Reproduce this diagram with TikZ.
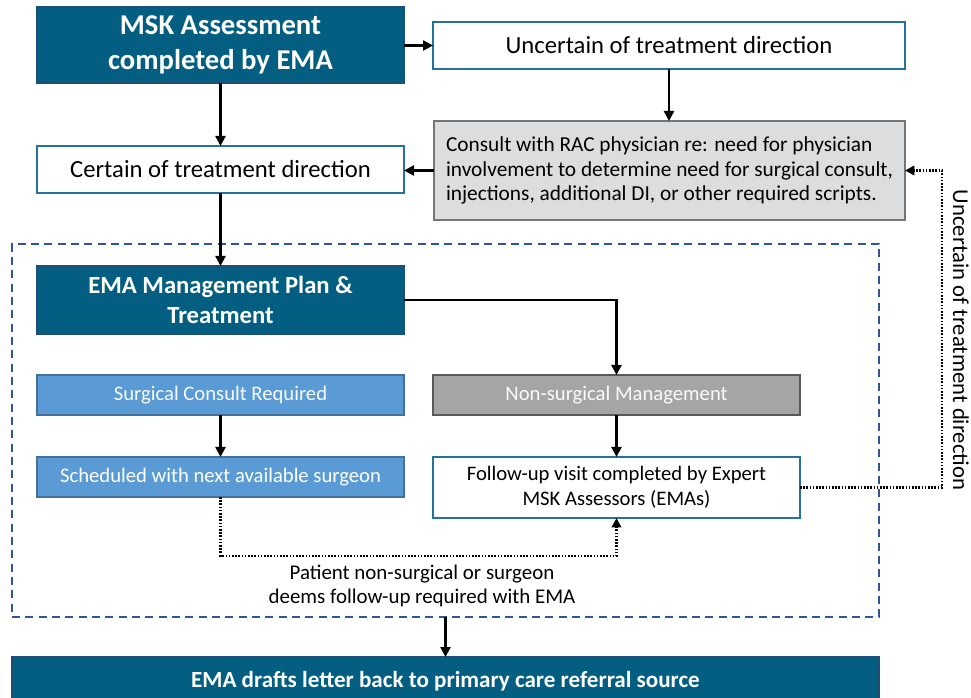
\documentclass[tikz,border=0pt]{standalone}
\usepackage{fontspec}
\setmainfont{Carlito}
\usetikzlibrary{arrows.meta,calc}
\definecolor{darkteal}{HTML}{035E82}
\definecolor{darkedge}{HTML}{1F4E79}
\definecolor{tealedge}{HTML}{2372A0}
\definecolor{consfill}{HTML}{DCDDDF}
\definecolor{consedge}{HTML}{767676}
\definecolor{surgfill}{HTML}{5B9BD5}
\definecolor{surgedge}{HTML}{41719C}
\definecolor{nonfill}{HTML}{A5A5A5}
\definecolor{nonedge}{HTML}{595959}
\definecolor{contedge}{HTML}{2F5597}
\tikzset{
  box/.style={rectangle, inner sep=0pt, outer sep=0pt, align=center, line width=1.2pt},
  darkbox/.style={box, fill=darkteal, draw=darkedge, text=white, font=\bfseries},
  whitebox/.style={box, fill=white, draw=tealedge},
  consbox/.style={box, fill=consfill, draw=consedge},
  surgbox/.style={box, fill=surgfill, draw=surgedge, text=white!95!surgfill},
  nonbox/.style={box, fill=nonfill, draw=nonedge, text=white!95!nonfill},
  conn/.style={line width=1.7pt, -{Triangle[length=7.5pt,width=7.5pt]}},
  dotconn/.style={line width=2pt, dash pattern=on 1.2pt off 1.2pt, -{Triangle[length=7pt,width=7pt]}},
  container/.style={rectangle, draw=contedge, line width=1.1pt, dash pattern=on 6pt off 4pt, inner sep=0pt, outer sep=0pt}
}
\begin{document}
\begin{tikzpicture}[x=0.75pt,y=-0.75pt]
\clip (0,0) rectangle (971,698);
\useasboundingbox (0,0) rectangle (971,698);
\fill[white] (0,0) rectangle (971,698);

\node[container, minimum width=650.25pt, minimum height=279.75pt] (cont) at (445.5,430.5) {};

\node[darkbox, minimum width=275.25pt, minimum height=57pt, font=\fontsize{21.5}{26}\selectfont\bfseries] (msk) at (220.5,45) {\raisebox{-2pt}{\begin{tabular}{@{}c@{}}MSK Assessment\\completed by EMA\end{tabular}}};
\node[whitebox, minimum width=354pt, minimum height=35.25pt, font=\fontsize{18.5}{22}\selectfont] (unc) at (669,45.5) {Uncertain of treatment direction};
\node[whitebox, minimum width=275.25pt, minimum height=35.25pt, font=\fontsize{18.5}{22}\selectfont] (cert) at (220.5,169.5) {Certain of treatment direction};
\node[consbox, minimum width=353.25pt, minimum height=74.25pt, align=left, font=\fontsize{16}{18.4}\selectfont] (cons) at (669.5,170.5) {Consult with RAC physician re: need for physician\\involvement to determine need for surgical consult,\\injections, additional DI, or other required scripts.};
\node[darkbox, minimum width=275.25pt, minimum height=51pt, font=\fontsize{18.5}{22}\selectfont\bfseries] (mgmt) at (220.5,300) {EMA Management Plan \&\\Treatment};
\node[surgbox, minimum width=275.25pt, minimum height=30pt, font=\fontsize{15.5}{18}\selectfont] (surg) at (220.5,395) {Surgical Consult Required};
\node[nonbox, minimum width=275.25pt, minimum height=30pt, font=\fontsize{15.5}{18}\selectfont] (non) at (616.5,395) {Non-surgical Management};
\node[surgbox, text=white, minimum width=275.25pt, minimum height=30pt, font=\fontsize{15.5}{18}\selectfont] (sched) at (220.5,477) {Scheduled with next available surgeon};
\node[whitebox, minimum width=275.25pt, minimum height=45.75pt, font=\fontsize{15.5}{18.5}\selectfont] (fu) at (616.5,487.5) {Follow-up visit completed by Expert\\MSK Assessors (EMAs)};
\node[darkbox, minimum width=650.25pt, minimum height=36pt, font=\fontsize{17.3}{20}\selectfont\bfseries] (draft) at (445.5,681) {EMA drafts letter back to primary care referral source};

\node[align=center, font=\fontsize{15.7}{18}\selectfont] (lbl) at (422,586) {Patient non-surgical or surgeon\\deems follow-up required with EMA};
\node[rotate=-90, font=\fontsize{17}{20}\selectfont] (vlbl) at (961,340) {Uncertain of treatment direction};

\coordinate (dd) at (0,556);
\coordinate (dr) at (942,0);

\draw[conn] (msk.east |- unc.west) -- (unc.west);
\draw[conn] (msk.south) -- (cert.north);
\draw[conn] (unc.south) -- (unc.south |- cons.north);
\draw[conn] (cons.west) -- (cons.west -| cert.east);
\draw[conn] (cert.south) -- (mgmt.north);
\draw[conn] (mgmt.east) -| (non.north);
\draw[conn] (surg.south) -- (sched.north);
\draw[conn] (non.south) -- (fu.north);
\draw[conn] (cont.south) -- (cont.south |- draft.north);
\draw[dotconn] (sched.south) -- (sched.south |- dd) -- (fu.south |- dd) -- (fu.south);
\draw[dotconn] (fu.east) -- (fu.east -| dr) -- (cons.east -| dr) -- (cons.east);
\end{tikzpicture}
\end{document}
